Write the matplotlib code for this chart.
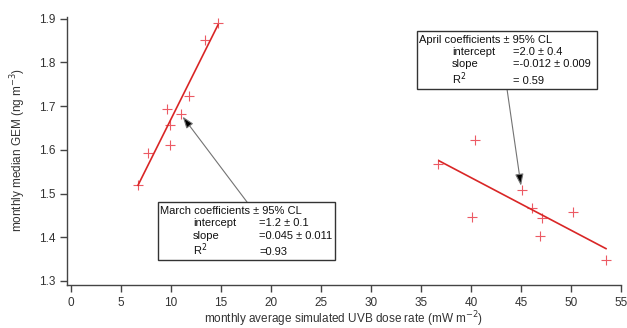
import matplotlib
matplotlib.use("Agg")
import matplotlib.pyplot as plt
from matplotlib.patches import Rectangle

plt.rcParams['font.family'] = ['Liberation Sans', 'DejaVu Sans']

# March monthly points
march_uvb = [6.7, 7.7, 9.9, 9.9, 9.6, 11.0, 11.8, 13.4, 14.7]
march_gem = [1.519, 1.592, 1.611, 1.657, 1.694, 1.683, 1.724, 1.851, 1.891]
# April monthly points
april_uvb = [36.7, 40.1, 40.4, 45.1, 46.1, 47.1, 46.9, 50.2, 53.5]
april_gem = [1.567, 1.446, 1.622, 1.509, 1.467, 1.444, 1.403, 1.458, 1.349]

# fitted lines (end points)
march_fit_x = [6.7, 14.7]
march_fit_y = [1.519, 1.886]
april_fit_x = [36.8, 53.5]
april_fit_y = [1.575, 1.374]

april_lines = ["intercept", "slope", "R$^2$"]
april_vals = ["=2.0 \u00b1 0.4", "=-0.012 \u00b1 0.009", "= 0.59"]
march_lines = ["intercept", "slope", "R$^2$"]
march_vals = ["=1.2 \u00b1 0.1", "=0.045 \u00b1 0.011", "=0.93"]

W, H = 627, 328
fig = plt.figure(figsize=(W / 100, H / 100), dpi=100)
ax = fig.add_axes([67 / W, 1 - 285 / H, 554 / W, 268 / H])

mk = '#ec5a64'
ax.plot(march_uvb, march_gem, ls='none', marker='+', ms=7, mew=0.8, color=mk)
ax.plot(april_uvb, april_gem, ls='none', marker='+', ms=7, mew=0.8, color=mk)
ax.plot(march_fit_x, march_fit_y, color='#d92626', lw=1.2)
ax.plot(april_fit_x, april_fit_y, color='#d92626', lw=1.2)

ax.set_xlim(-0.4, 55.0)
ax.set_ylim(1.2908, 1.904)
ax.set_xticks(range(0, 56, 5))
ax.set_yticks([1.3, 1.4, 1.5, 1.6, 1.7, 1.8, 1.9])
for s in ['top', 'right']:
    ax.spines[s].set_visible(False)
for s in ['left', 'bottom']:
    ax.spines[s].set_color('#444444')
    ax.spines[s].set_linewidth(1.0)
ax.tick_params(direction='out', length=5, width=1, color='#444444',
               labelcolor='#333333', labelsize=8.5)

fig.text(0.5 * (67 + 621) / W, 1 - 323 / H,
         "monthly average simulated UVB dose rate (mW m$^{-2}$)",
         ha='center', va='baseline', fontsize=8.5, color='#333333')
fig.text(18 / W, 1 - 150 / H, "monthly median GEM (ng m$^{-3}$)",
         rotation=90, ha='center', va='center', fontsize=8.5, color='#333333')


def draw_box(x0, y0, x1, y1, title, names, vals, baselines, tx, nx, vx):
    fig.patches.append(Rectangle((x0 / W, 1 - y1 / H), (x1 - x0) / W, (y1 - y0) / H,
                                 transform=fig.transFigure, fill=True, fc='white',
                                 ec='#333333', lw=1.0, zorder=3))
    fig.text(tx / W, 1 - baselines[0] / H, title, va='baseline', fontsize=8,
             color='#111111', zorder=4)
    for n, v, b in zip(names, vals, baselines[1:]):
        fig.text(nx / W, 1 - b / H, n, va='baseline', fontsize=8, color='#111111', zorder=4)
        fig.text(vx / W, 1 - b / H, v, va='baseline', fontsize=8, color='#111111', zorder=4)


draw_box(417, 31, 597, 89, "April coefficients \u00b1 95% CL", april_lines, april_vals,
         [43, 55, 67, 83.5], 419, 452, 513)
draw_box(158, 202, 335, 260, "March coefficients \u00b1 95% CL", march_lines, march_vals,
         [214, 226.5, 239, 255], 160.5, 193, 259)

arrow = dict(arrowstyle='-|>,head_length=0.7,head_width=0.25', fc='black', ec='0.45', lw=0.8,
             shrinkA=0, shrinkB=0)
ax.annotate('', xy=(45.0, 1.518), xycoords='data', xytext=(507, H - 89),
            textcoords='figure pixels', arrowprops=arrow)
ax.annotate('', xy=(11.17, 1.676), xycoords='data', xytext=(247, H - 202),
            textcoords='figure pixels', arrowprops=arrow)

fig.savefig("out.png", dpi=100)
